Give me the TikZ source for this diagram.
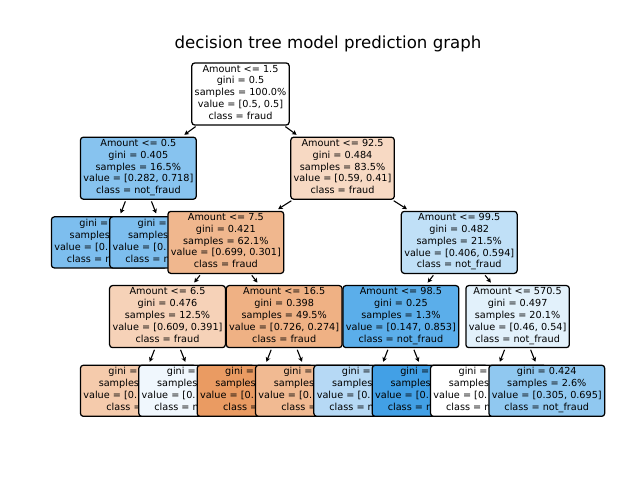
\documentclass[tikz,border=0pt]{standalone}
\usepackage{fontspec}
\setmainfont{DejaVu Sans}
\usetikzlibrary{arrows.meta}
\definecolor{cn1}{RGB}{135,195,239}
\definecolor{cla}{RGB}{125,190,238}
\definecolor{cn2}{RGB}{247,217,195}
\definecolor{cn3}{RGB}{240,183,142}
\definecolor{cn4}{RGB}{246,210,184}
\definecolor{cl1}{RGB}{245,203,172}
\definecolor{cl2}{RGB}{240,247,253}
\definecolor{cn5}{RGB}{239,177,132}
\definecolor{cl3}{RGB}{234,155,98}
\definecolor{cl4}{RGB}{241,186,146}
\definecolor{cn6}{RGB}{192,224,247}
\definecolor{cn7}{RGB}{91,174,234}
\definecolor{cl5}{RGB}{182,217,245}
\definecolor{cl6}{RGB}{66,160,230}
\definecolor{cn8}{RGB}{226,241,251}
\definecolor{cl8}{RGB}{144,200,240}
\begin{document}
\begin{tikzpicture}[x=0.01in,y=-0.01in,
  box/.style={draw=black, line width=0.9pt, rounded corners=2.1pt, align=center,
    inner xsep=2.1pt, inner ysep=0pt, font=\fontsize{7}{8.55}\selectfont,
    minimum height=44.8pt, execute at begin node=\strut, execute at end node=\strut},
  leafbox/.style={box, minimum height=36.9pt},
  arr/.style={-{Stealth[length=3.2pt,width=3.4pt,inset=0.8pt]}, line width=0.8pt,
    shorten <=1.2pt, shorten >=2.2pt}]
\useasboundingbox (0,0) rectangle (640,480);
\node[font=\fontsize{12}{14}\selectfont, anchor=base] (title) at (328,48.5) {decision tree model prediction graph};
% preorder drawing
\node[box, fill=white] (root) at (240.5,94) {Amount <= 1.5\\gini = 0.5\\samples = 100.0\%\\value = [0.5, 0.5]\\class = fraud};
\node[box, fill=cn1] (n1) at (138.35,168.2) {Amount <= 0.5\\gini = 0.405\\samples = 16.5\%\\value = [0.282, 0.718]\\class = not\_fraud};
\node[leafbox, fill=cla] (la) at (109.3,242.4) {gini = \phantom{0.000}\\samples\phantom{ = 0.0\%}\\value = [0.\phantom{000, 0.000]}\\class = n\phantom{ot\_fraud}};
\node[leafbox, fill=cla] (lb) at (167.6,242.4) {gini = \phantom{0.000}\\samples\phantom{ = 0.0\%}\\value = [0.\phantom{000, 0.000]}\\class = n\phantom{ot\_fraud}};
\node[box, fill=cn2] (n2) at (342.55,168.2) {Amount <= 92.5\\gini = 0.484\\samples = 83.5\%\\value = [0.59, 0.41]\\class = fraud};
\node[box, fill=cn3] (n3) at (225.85,242.4) {Amount <= 7.5\\gini = 0.421\\samples = 62.1\%\\value = [0.699, 0.301]\\class = fraud};
\node[box, fill=cn4] (n4) at (167.5,316.6) {Amount <= 6.5\\gini = 0.476\\samples = 12.5\%\\value = [0.609, 0.391]\\class = fraud};
\node[leafbox, fill=cl1] (l1) at (138.35,390.8) {gini = \phantom{0.000}\\samples\phantom{ = 0.0\%}\\value = [0.\phantom{000, 0.000]}\\class = \phantom{fraud}};
\node[leafbox, fill=cl2] (l2) at (196.7,390.8) {gini = \phantom{0.000}\\samples\phantom{ = 0.0\%}\\value = [0.\phantom{000, 0.000]}\\class = n\phantom{ot\_fraud}};
\node[box, fill=cn5] (n5) at (284.2,316.6) {Amount <= 16.5\\gini = 0.398\\samples = 49.5\%\\value = [0.726, 0.274]\\class = fraud};
\node[leafbox, fill=cl3] (l3) at (255.05,390.8) {gini = \phantom{0.000}\\samples\phantom{ = 0.0\%}\\value = [0.\phantom{000, 0.000]}\\class = \phantom{fraud}};
\node[leafbox, fill=cl4] (l4) at (313.4,390.8) {gini = \phantom{0.000}\\samples\phantom{ = 0.0\%}\\value = [0.\phantom{000, 0.000]}\\class = \phantom{fraud}};
\node[box, fill=cn6] (n6) at (459.25,242.4) {Amount <= 99.5\\gini = 0.482\\samples = 21.5\%\\value = [0.406, 0.594]\\class = not\_fraud};
\node[box, fill=cn7] (n7) at (400.9,316.6) {Amount <= 98.5\\gini = 0.25\\samples = 1.3\%\\value = [0.147, 0.853]\\class = not\_fraud};
\node[leafbox, fill=cl5] (l5) at (371.75,390.8) {gini = \phantom{0.000}\\samples\phantom{ = 0.0\%}\\value = [0.\phantom{000, 0.000]}\\class = n\phantom{ot\_fraud}};
\node[leafbox, fill=cl6] (l6) at (430.1,390.8) {gini = \phantom{0.000}\\samples\phantom{ = 0.0\%}\\value = [0.\phantom{000, 0.000]}\\class = n\phantom{ot\_fraud}};
\node[box, fill=cn8] (n8) at (517.6,316.6) {Amount <= 570.5\\gini = 0.497\\samples = 20.1\%\\value = [0.46, 0.54]\\class = not\_fraud};
\node[leafbox, fill=white] (l7) at (488.45,390.8) {gini = \phantom{0.000}\\samples\phantom{ = 0.0\%}\\value = [0.\phantom{000, 0.000]}\\class = n\phantom{ot\_fraud}};
\node[leafbox, fill=cl8] (l8) at (546.8,390.8) {gini = 0.424\\samples = 2.6\%\\value = [0.305, 0.695]\\class = not\_fraud};
% connectors
\draw[arr] (root) -- (n1);
\draw[arr] (root) -- (n2);
\draw[arr] (n1) -- (la);
\draw[arr] (n1) -- (lb);
\draw[arr] (n2) -- (n3);
\draw[arr] (n2) -- (n6);
\draw[arr] (n3) -- (n4);
\draw[arr] (n3) -- (n5);
\draw[arr] (n4) -- (l1);
\draw[arr] (n4) -- (l2);
\draw[arr] (n5) -- (l3);
\draw[arr] (n5) -- (l4);
\draw[arr] (n6) -- (n7);
\draw[arr] (n6) -- (n8);
\draw[arr] (n7) -- (l5);
\draw[arr] (n7) -- (l6);
\draw[arr] (n8) -- (l7);
\draw[arr] (n8) -- (l8);
\end{tikzpicture}
\end{document}
